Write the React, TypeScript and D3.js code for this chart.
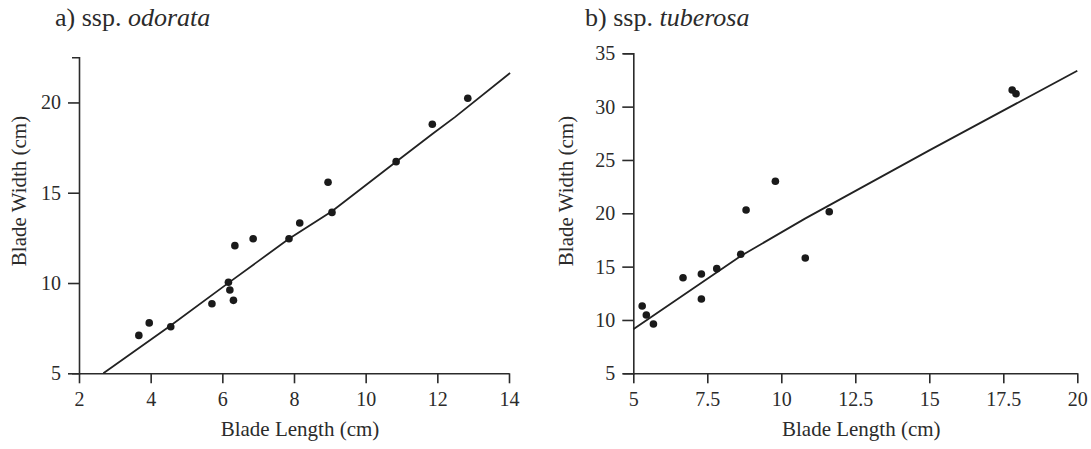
import React, { useEffect, useRef } from 'react';
import * as d3 from 'd3';

// ---- Data: panel a) ssp. odorata ----
const odorataLength = [3.67, 3.96, 4.56, 5.71, 6.17, 6.21, 6.31, 6.35, 6.86, 7.86, 8.16, 8.95, 9.06, 10.85, 11.86, 12.85];
const odorataWidth = [7.10, 7.79, 7.58, 8.85, 10.04, 9.61, 9.04, 12.07, 12.45, 12.45, 13.32, 15.58, 13.91, 16.72, 18.79, 20.23];
const odorataFitLength = [2.68, 4.56, 6.2, 7.86, 9.06, 10.85, 11.86, 12.5, 14.03];
const odorataFitWidth = [5.0, 7.65, 10.05, 12.45, 13.98, 16.72, 18.25, 19.2, 21.63];
const odorataXTicks = [2, 4, 6, 8, 10, 12, 14];
const odorataYTicks = [5, 10, 15, 20];

// ---- Data: panel b) ssp. tuberosa ----
const tuberosaLength = [5.30, 5.44, 5.68, 6.68, 7.30, 7.30, 7.82, 8.63, 8.81, 9.80, 10.81, 11.62, 17.80, 17.93];
const tuberosaWidth = [11.31, 10.47, 9.62, 13.96, 14.31, 11.97, 14.81, 16.16, 20.31, 23.0, 15.81, 20.15, 31.56, 31.21];
const tuberosaFitLength = [5.0, 8.63, 10.8, 15.0, 20.0];
const tuberosaFitWidth = [9.12, 16.0, 19.5, 25.9, 33.37];
const tuberosaXTicks = [5, 7.5, 10, 12.5, 15, 17.5, 20];
const tuberosaYTicks = [5, 10, 15, 20, 25, 30, 35];

const FONT = "'Liberation Serif', 'Times New Roman', serif";
const INK = '#2b2b2b';

type Panel = {
  title: string;
  italic: string;
  xs: number[]; ys: number[];
  fx: number[]; fy: number[];
  xTicks: number[]; yTicks: number[];
  xDomain: [number, number]; yDomain: [number, number];
  left: number; right: number; top: number; bottom: number;
  titleX: number; yLabelX: number;
  outerY: number;
};

const panels: Panel[] = [
  {
    title: 'a) ssp. ', italic: 'odorata',
    xs: odorataLength, ys: odorataWidth, fx: odorataFitLength, fy: odorataFitWidth,
    xTicks: odorataXTicks, yTicks: odorataYTicks,
    xDomain: [2, 14], yDomain: [5, 22.5],
    left: 79, right: 509, top: 57.3, bottom: 373.3,
    titleX: 55, yLabelX: 26, outerY: 7,
  },
  {
    title: 'b) ssp. ', italic: 'tuberosa',
    xs: tuberosaLength, ys: tuberosaWidth, fx: tuberosaFitLength, fy: tuberosaFitWidth,
    xTicks: tuberosaXTicks, yTicks: tuberosaYTicks,
    xDomain: [5, 20], yDomain: [5, 35],
    left: 633.3, right: 1077.3, top: 53.3, bottom: 373.3,
    titleX: 585, yLabelX: 573, outerY: 10,
  },
];

export default function App() {
  const ref = useRef<SVGSVGElement | null>(null);

  useEffect(() => {
    const svg = d3.select(ref.current);
    svg.selectAll('*').remove();

    panels.forEach((p) => {
      const x = d3.scaleLinear().domain(p.xDomain).range([p.left, p.right]);
      const y = d3.scaleLinear().domain(p.yDomain).range([p.bottom, p.top]);
      const g = svg.append('g');

      const xAxis = d3.axisBottom(x).tickValues(p.xTicks).tickSize(10).tickSizeOuter(0).tickPadding(9)
        .tickFormat((d: any) => String(d));
      const yAxis = d3.axisLeft(y).tickValues(p.yTicks).tickSize(11).tickSizeOuter(p.outerY).tickPadding(7)
        .tickFormat((d: any) => String(d));

      const gx = g.append('g').attr('transform', `translate(0,${p.bottom})`).call(xAxis);
      const gy = g.append('g').attr('transform', `translate(${p.left},0)`).call(yAxis);
      [gx, gy].forEach((ax) => {
        ax.select('.domain').attr('stroke', INK).attr('stroke-width', 1.6);
        ax.selectAll('.tick line').attr('stroke', INK).attr('stroke-width', 1.6);
        ax.selectAll('.tick text').attr('fill', INK).attr('font-size', 20).attr('font-family', FONT);
      });

      // fitted line
      const pts = p.fx.map((v, i) => [v, p.fy[i]] as [number, number]);
      const line = d3.line<[number, number]>().x((d) => x(d[0])).y((d) => y(d[1]));
      g.append('path').attr('d', line(pts) as string).attr('fill', 'none')
        .attr('stroke', '#222').attr('stroke-width', 1.8);

      // points
      g.selectAll('circle.pt').data(p.xs.map((v, i) => [v, p.ys[i]]))
        .join('circle').attr('class', 'pt')
        .attr('cx', (d) => x(d[0])).attr('cy', (d) => y(d[1]))
        .attr('r', 3.8).attr('fill', '#1a1a1a');

      // title
      const t = g.append('text').attr('x', p.titleX).attr('y', 26)
        .attr('font-family', FONT).attr('font-size', 26).attr('fill', INK);
      t.append('tspan').text(p.title);
      t.append('tspan').attr('font-style', 'italic').text(p.italic);

      // axis titles
      g.append('text').attr('x', (p.left + p.right) / 2 + 6).attr('y', 436)
        .attr('text-anchor', 'middle').attr('font-family', FONT).attr('font-size', 21)
        .attr('fill', INK).text('Blade Length (cm)');
      g.append('text')
        .attr('transform', `translate(${p.yLabelX},191) rotate(-90)`)
        .attr('text-anchor', 'middle').attr('font-family', FONT).attr('font-size', 21)
        .attr('fill', INK).text('Blade Width (cm)');
    });
  }, []);

  return (
    <svg ref={ref} width={1091} height={449}
      style={{ position: 'absolute', left: 0, top: 0, background: '#fff' }} />
  );
}
